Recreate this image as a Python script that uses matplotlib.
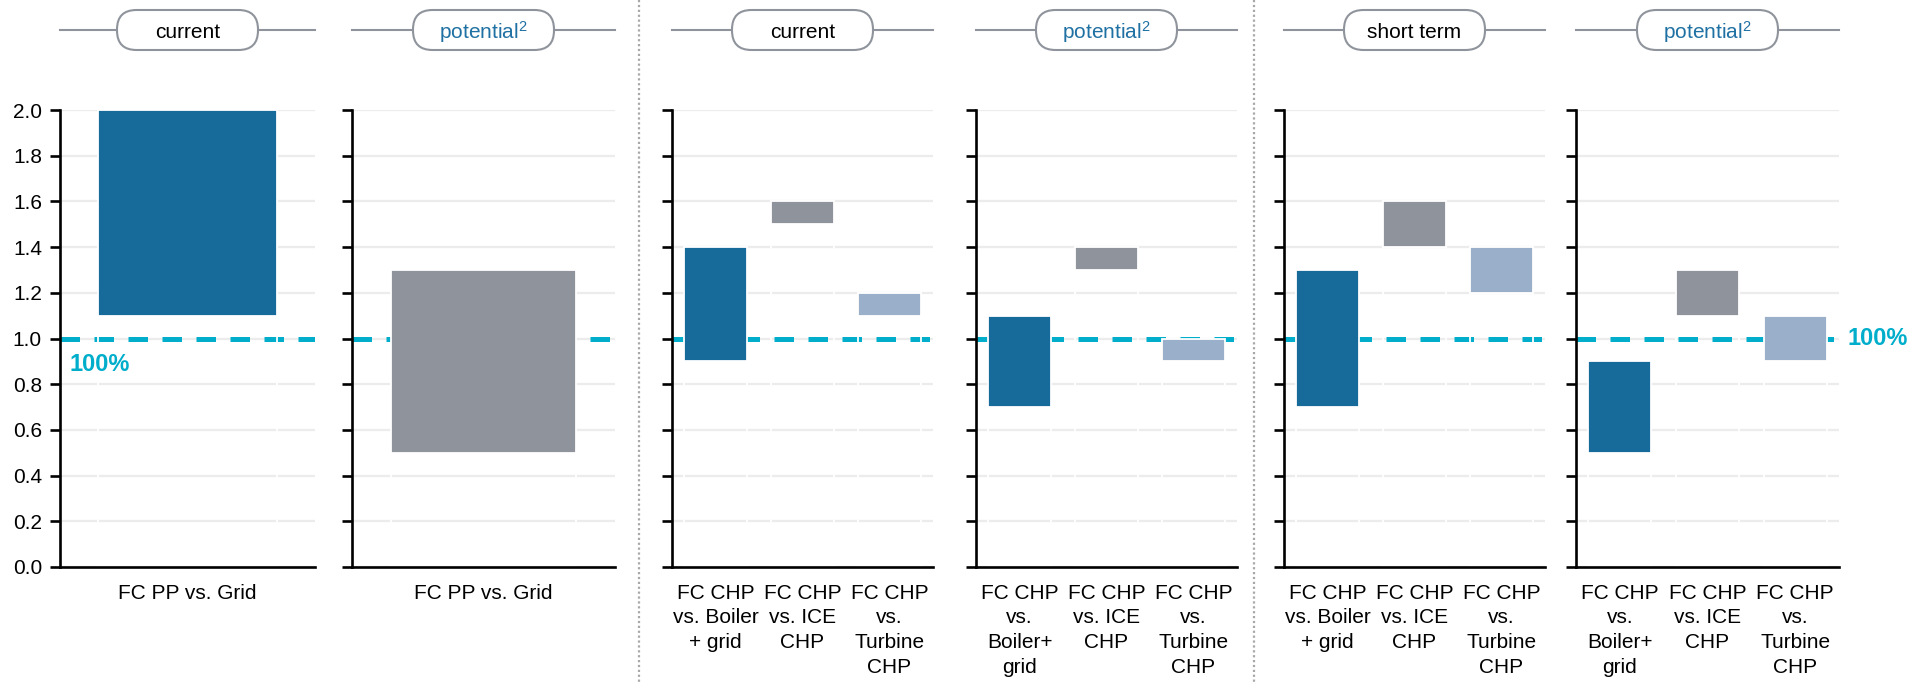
import numpy as np
import matplotlib.pyplot as plt
from matplotlib.patches import FancyBboxPatch

plt.rcParams['font.family'] = ['Liberation Sans', 'DejaVu Sans']
plt.rcParams['mathtext.fontset'] = 'custom'
plt.rcParams['mathtext.rm'] = 'Liberation Sans'
plt.rcParams['mathtext.it'] = 'Liberation Sans'

# ---- data ----
headers = ["current", "potential$^{\\mathrm{2}}$", "current", "potential$^{\\mathrm{2}}$",
           "short term", "potential$^{\\mathrm{2}}$"]
header_is_blue = [False, True, False, True, False, True]

cats_1 = ["FC PP vs. Grid"]
cats_2 = ["FC PP vs. Grid"]
cats_3 = ["FC CHP\nvs. Boiler\n+ grid", "FC CHP\nvs. ICE\nCHP", "FC CHP\nvs.\nTurbine\nCHP"]
cats_4 = ["FC CHP\nvs.\nBoiler+\ngrid", "FC CHP\nvs. ICE\nCHP", "FC CHP\nvs.\nTurbine\nCHP"]
cats_5 = ["FC CHP\nvs. Boiler\n+ grid", "FC CHP\nvs. ICE\nCHP", "FC CHP\nvs.\nTurbine\nCHP"]
cats_6 = ["FC CHP\nvs.\nBoiler+\ngrid", "FC CHP\nvs. ICE\nCHP", "FC CHP\nvs.\nTurbine\nCHP"]

low_1 = [1.1]
high_1 = [2.0]
low_2 = [0.5]
high_2 = [1.3]
low_3 = [0.9, 1.5, 1.1]
high_3 = [1.4, 1.6, 1.2]
low_4 = [0.7, 1.3, 0.9]
high_4 = [1.1, 1.4, 1.0]
low_5 = [0.7, 1.4, 1.2]
high_5 = [1.3, 1.6, 1.4]
low_6 = [0.5, 1.1, 0.9]
high_6 = [0.9, 1.3, 1.1]

reference = 1.0
yticks = [0.0, 0.2, 0.4, 0.6, 0.8, 1.0, 1.2, 1.4, 1.6, 1.8, 2.0]

# ---- style ----
DARK = '#176b9a'
GRAY = '#8f949c'
LIGHT = '#99afca'
CYAN = '#00aecb'
PILL = '#8f949c'
BLUE_TXT = '#1f70a3'

panels = [
    (cats_1, low_1, high_1, [DARK]),
    (cats_2, low_2, high_2, [GRAY]),
    (cats_3, low_3, high_3, [DARK, GRAY, LIGHT]),
    (cats_4, low_4, high_4, [DARK, GRAY, LIGHT]),
    (cats_5, low_5, high_5, [DARK, GRAY, LIGHT]),
    (cats_6, low_6, high_6, [DARK, GRAY, LIGHT]),
]

W, H = 1923, 684
axes_px = [(60, 315), (352, 615), (672, 933), (976, 1237), (1284, 1545), (1576, 1839)]
y_top, y_bot = 110, 567

fig = plt.figure(figsize=(W / 100, H / 100), dpi=100)

for i, (cats, lo, hi, cols) in enumerate(panels):
    x0, x1 = axes_px[i]
    ax = fig.add_axes([x0 / W, (H - y_bot) / H, (x1 - x0) / W, (y_bot - y_top) / H])
    x = np.arange(len(cats))
    w = 0.7 if len(cats) == 1 else 0.72
    lo = np.array(lo)
    hi = np.array(hi)
    # invisible base segment (its white outline cuts the gridlines)
    ax.bar(x, lo, width=w, fill=False, edgecolor='white', linewidth=1.3, zorder=3)
    ax.bar(x, hi - lo, bottom=lo, width=w, color=cols, edgecolor='white', linewidth=1.3, zorder=3)
    ax.axhline(reference, color=CYAN, lw=3.6, dashes=(3.9, 2.9), zorder=2)

    ax.set_xlim(-0.5, len(cats) - 0.5)
    ax.set_ylim(0, 2.0)
    ax.set_yticks(yticks)
    ax.yaxis.grid(True, color='#ececec', lw=1.6, zorder=0)
    ax.set_axisbelow(True)
    for s in ['top', 'right']:
        ax.spines[s].set_visible(False)
    for s in ['left', 'bottom']:
        ax.spines[s].set_linewidth(1.9)
        ax.spines[s].set_zorder(5)
    ax.tick_params(axis='y', length=7, width=1.9, direction='out', labelsize=15, pad=6)
    if i == 0:
        ax.set_yticklabels([f"{v:.1f}" for v in yticks])
    else:
        ax.set_yticklabels([])
    ax.set_xticks(x)
    ax.set_xticklabels(cats, fontsize=15, linespacing=1.38, va='top')
    ax.tick_params(axis='x', length=0, pad=12)

    if i == 0:
        ax.annotate("100%", xy=(0, reference), xycoords=('axes fraction', 'data'),
                    xytext=(7, -19), textcoords='offset points', color=CYAN,
                    fontsize=17, fontweight='bold', ha='left', va='center')
    if i == 5:
        ax.annotate("100%", xy=(1, reference), xycoords=('axes fraction', 'data'),
                    xytext=(6, 0), textcoords='offset points', color=CYAN,
                    fontsize=17, fontweight='bold', ha='left', va='center',
                    annotation_clip=False)

# overlay in pixel units for headers and separators
ov = fig.add_axes([0, 0, 1, 1])
ov.set_xlim(0, W)
ov.set_ylim(H, 0)
ov.axis('off')

pill_w, pill_h, pill_y = 141, 40, 30
for i, (x0, x1) in enumerate(axes_px):
    cx = (x0 + x1) / 2
    ov.plot([x0, x1], [pill_y, pill_y], color=PILL, lw=1.5, zorder=1)
    box = FancyBboxPatch((cx - pill_w / 2, pill_y - pill_h / 2), pill_w, pill_h,
                         boxstyle="round,pad=0,rounding_size=19.5",
                         facecolor='white', edgecolor=PILL, lw=1.5, zorder=2)
    ov.add_patch(box)
    ov.text(cx, pill_y + 2, headers[i], ha='center', va='center', fontsize=15,
            color=BLUE_TXT if header_is_blue[i] else 'black', zorder=3)

for sx in [639, 1254]:
    ov.plot([sx, sx], [0, H], color='#a8a8a8', lw=1.6, dashes=(1, 1.2))

fig.savefig('out.png', dpi=100)
